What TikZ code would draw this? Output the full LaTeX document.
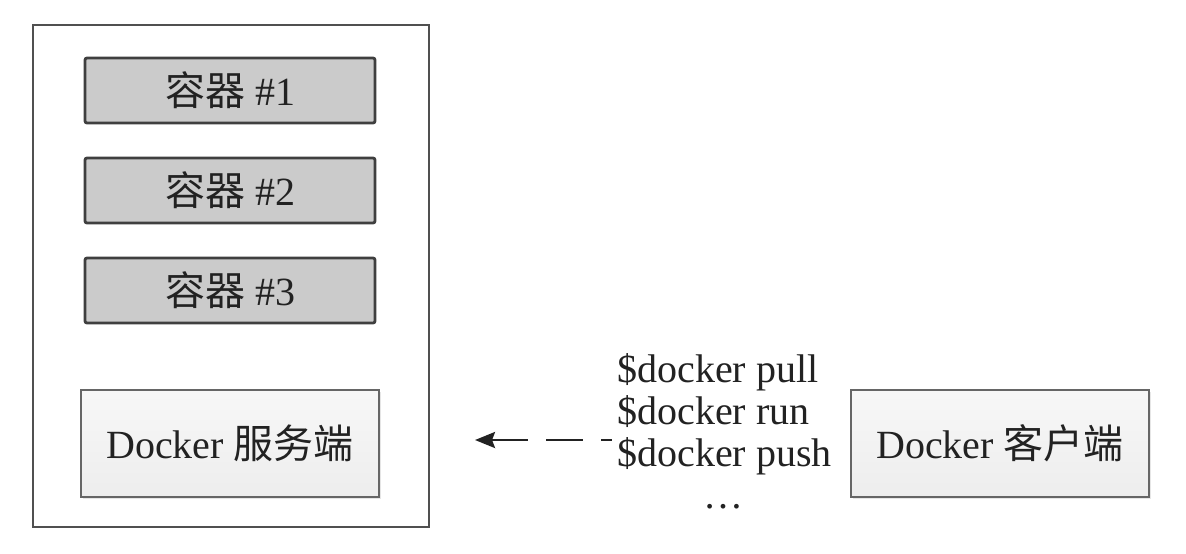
\documentclass[tikz,border=0pt]{standalone}
\usepackage{fontspec}
\setmainfont{Liberation Serif}
\newfontfamily\cjk{Noto Sans CJK SC}
\usetikzlibrary{positioning,arrows.meta,shadows}
\definecolor{textgray}{HTML}{222222}
\definecolor{ctrfill}{HTML}{CBCBCB}
\definecolor{ctrline}{HTML}{3F3F3F}
\definecolor{hostline}{HTML}{505050}
\definecolor{endline}{HTML}{666666}

\begin{document}
\begin{tikzpicture}[x=0.5pt,y=-0.5pt,
  every node/.style={font=\fontsize{20}{21}\selectfont, text=textgray},
  ctr/.style={draw=ctrline, line width=1.4pt, fill=ctrfill, rounded corners=1pt,
    minimum width=145pt, minimum height=32.5pt, inner sep=0pt},
  endbox/.style={draw=endline, line width=1.2pt, top color=gray!6, bottom color=gray!14,
    minimum width=149pt, minimum height=53.5pt, inner sep=0pt,
    drop shadow={shadow xshift=1pt, shadow yshift=-1pt, opacity=0.2}},
  cmd/.style={draw=textgray, line width=1.3pt, dash pattern=on 18.5pt off 9pt}
  ]

\useasboundingbox (0,0) rectangle (1186,553);

% docker host
\node[draw=hostline, line width=1pt, fill=white, minimum width=198pt, minimum height=251pt,
  inner sep=0pt] (host) at (231,276) {};

\foreach \i in {1,2,3}
  \node[ctr] (c\i) at (230,{-9.5+100*\i}) {{\cjk 容器} \#\i};

\node[endbox] (server) at (230,443.5) {Docker {\cjk 服务端}};
\node[endbox] (client) at (1000,443.5) {Docker {\cjk 客户端}};

% base is the last line here
\node[align=left, anchor=base west, inner sep=0pt] (cmds) at (617,508)
  {\$docker pull\\\$docker run\\\$docker push\\\hspace*{43pt}\ldots};

\coordinate (tip) at (475,440);
\coordinate (tail) at (612,440);
\draw[{Stealth[length=10pt,width=8pt,inset=1.5pt]}-, cmd] (tip) -- (tail);

\end{tikzpicture}
\end{document}
